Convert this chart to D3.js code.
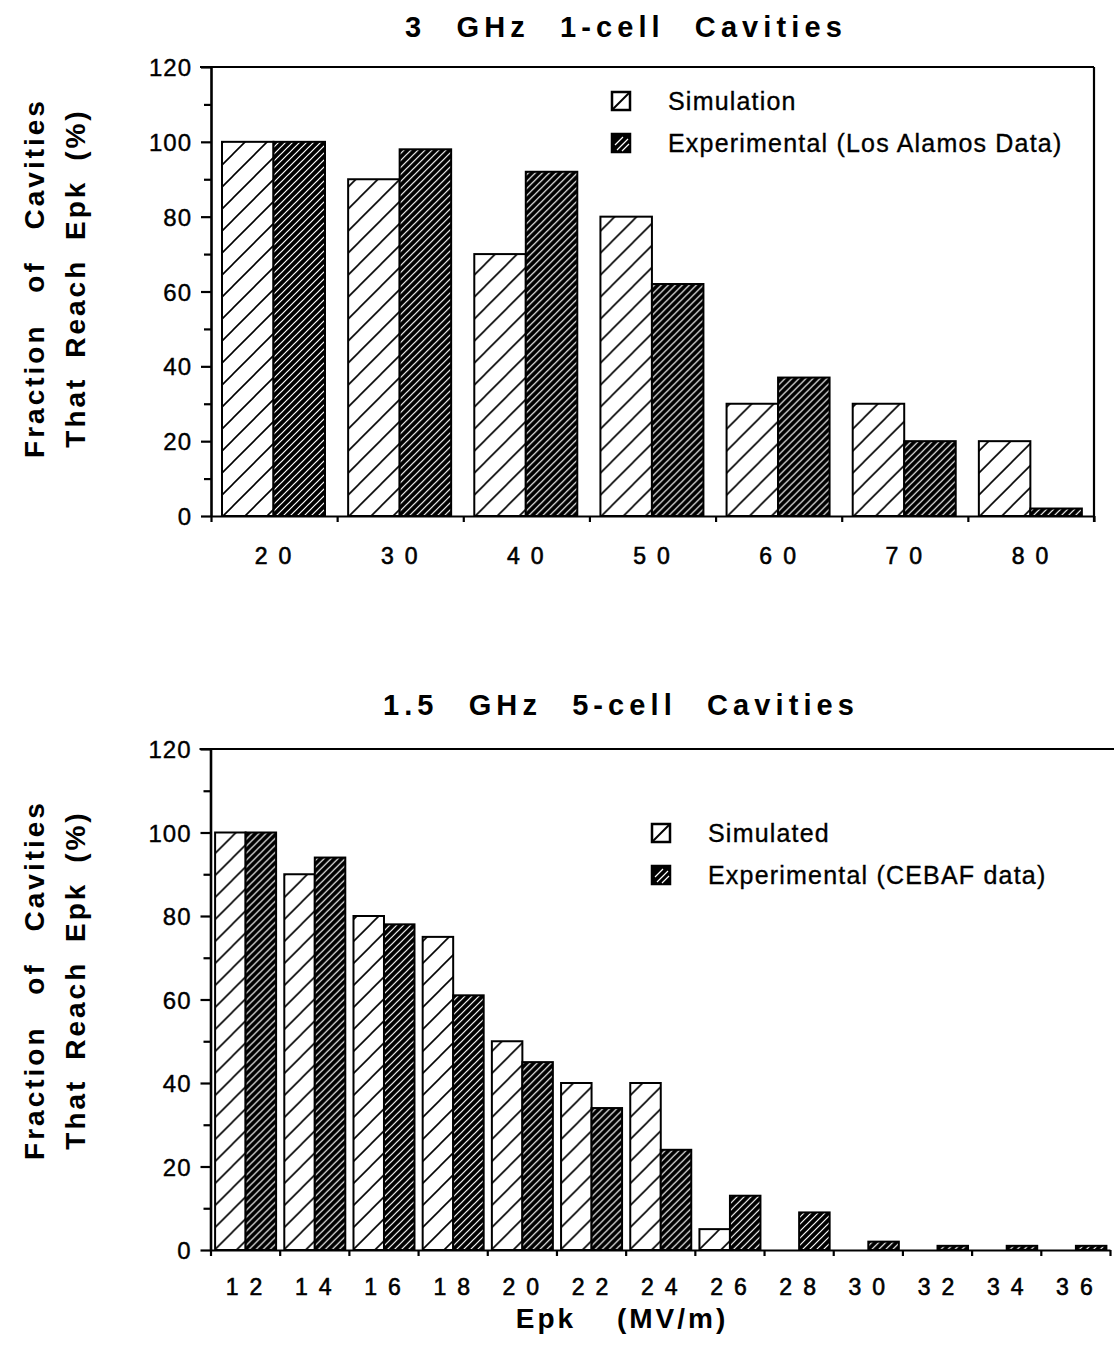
<!DOCTYPE html>
<html>
<head>
<meta charset="utf-8">
<script src="https://cdn.jsdelivr.net/npm/d3@7"></script>
<style>
  html, body { margin: 0; padding: 0; background: #fff; }
  svg { display: block; }
  text { font-family: "Liberation Sans", Arial, Helvetica, sans-serif; fill: #000; }
</style>
</head>
<body>
<svg id="chart" width="1114" height="1358"></svg>
<script>
// ---- data: 3 GHz single-cell cavities ----
const topCategories   = [20, 30, 40, 50, 60, 70, 80];
const topSimulation   = [100, 90, 70, 80, 30, 30, 20];
const topExperimental = [100, 98, 92, 62, 37, 20, 2];

// ---- data: 1.5 GHz five-cell cavities ----
const bottomCategories   = [12, 14, 16, 18, 20, 22, 24, 26, 28, 30, 32, 34, 36];
const bottomSimulated    = [100, 90, 80, 75, 50, 40, 40, 5, 0, 0, 0, 0, 0];
const bottomExperimental = [100, 94, 78, 61, 45, 34, 24, 13, 9, 2, 1, 1, 1];

// ---- axis ticks ----
const yMajorTicks = [0, 20, 40, 60, 80, 100, 120];
const yMinorTicks = [10, 30, 50, 70, 90, 110];

const FONT = '"Liberation Sans", Arial, Helvetica, sans-serif';
const svg = d3.select("#chart");
svg.append("rect").attr("width", 1114).attr("height", 1358).attr("fill", "#fff");

// hatch fills: open "/" hatch and dense dark hatch
const defs = svg.append("defs");
function hatch(id, step, bg, fg, w) {
  const p = defs.append("pattern")
    .attr("id", id)
    .attr("patternUnits", "userSpaceOnUse")
    .attr("width", step).attr("height", step);
  p.append("rect").attr("width", step).attr("height", step).attr("fill", bg);
  p.append("path")
    .attr("d", `M-1,1 l2,-2 M0,${step} l${step},-${step} M${step - 1},${step + 1} l2,-2`)
    .attr("stroke", fg).attr("stroke-width", w);
}
hatch("simHatch", 22, "#fff", "#000", 1.6);
hatch("expHatch", 7, "#000", "#fff", 1.2);

// slightly heavier strokes for plain text
function ink(sel, w) { return sel.attr("stroke", "#000").attr("stroke-width", w); }

function panel(o) {
  const g = svg.append("g");

  const y = d3.scaleLinear().domain([0, 120]).range([o.bottom, o.top]);
  const x = d3.scaleBand().domain(o.categories).range([o.left, o.right]).padding(0);
  const xs = d3.scaleBand().domain(["sim", "exp"])
    .range([o.groupOffset, o.groupOffset + o.groupWidth]).padding(0);
  const edges = d3.scaleLinear().domain([0, o.categories.length]).range([o.left, o.right]);

  // title
  g.append("text")
    .attr("x", o.titleX).attr("y", o.titleY)
    .attr("text-anchor", "middle")
    .attr("font-size", 29).attr("font-weight", "bold")
    .attr("letter-spacing", 5.1).attr("word-spacing", 17)
    .text(o.title);

  // y axis title (two rotated lines)
  const yl = g.append("g").attr("font-size", 28).attr("font-weight", "bold");
  yl.append("text")
    .attr("transform", `translate(44,${o.labelY}) rotate(-90)`)
    .attr("text-anchor", "middle")
    .attr("letter-spacing", 3).attr("word-spacing", 20)
    .text("Fraction of Cavities");
  yl.append("text")
    .attr("transform", `translate(85,${o.labelY}) rotate(-90)`)
    .attr("text-anchor", "middle")
    .attr("letter-spacing", 3).attr("word-spacing", 8)
    .text("That Reach Epk (%)");

  // bars
  const rows = o.categories.map((c, i) => ({ c, sim: o.sim[i], exp: o.exp[i] }));
  const groups = g.append("g").selectAll("g").data(rows).join("g")
    .attr("transform", d => `translate(${x(d.c)},0)`);
  ["sim", "exp"].forEach(key => {
    groups.filter(d => d[key] > 0).append("rect")
      .attr("x", xs(key))
      .attr("width", xs.bandwidth())
      .attr("y", d => y(d[key]))
      .attr("height", d => y(0) - y(d[key]))
      .attr("fill", key === "sim" ? "url(#simHatch)" : "url(#expHatch)")
      .attr("stroke", "#000").attr("stroke-width", 2);
  });

  // top frame line and optional right border
  g.append("line")
    .attr("x1", o.left - 11).attr("x2", o.frameRight)
    .attr("y1", o.top).attr("y2", o.top)
    .attr("stroke", "#000").attr("stroke-width", 2.2);
  if (o.rightBorder) {
    g.append("line")
      .attr("x1", o.right).attr("x2", o.right)
      .attr("y1", o.top).attr("y2", o.bottom + 6)
      .attr("stroke", "#000").attr("stroke-width", 2.2);
  }

  // x axis: tick marks at band edges
  const xEdge = g.append("g").attr("transform", `translate(0,${o.bottom})`)
    .call(d3.axisBottom(edges).tickValues(d3.range(o.categories.length + 1))
      .tickSize(6).tickSizeOuter(0).tickFormat(""));
  xEdge.selectAll("line").attr("stroke-width", 2.2);
  xEdge.select(".domain").attr("stroke-width", 2.2);

  // x axis: category labels
  const xLab = g.append("g").attr("transform", `translate(0,${o.bottom})`)
    .call(d3.axisBottom(x).tickSize(0).tickPadding(o.xPad));
  xLab.select(".domain").remove();
  ink(xLab.selectAll("text")
    .attr("font-family", FONT).attr("font-size", 23)
    .attr("letter-spacing", 11).attr("dx", 4.5), 0.6);

  // y axis
  const yAx = g.append("g").attr("transform", `translate(${o.left},0)`)
    .call(d3.axisLeft(y).tickValues(yMajorTicks).tickSize(10).tickSizeOuter(0).tickPadding(9));
  yAx.select(".domain").attr("stroke-width", 2.6);
  yAx.selectAll("line").attr("stroke-width", 2.2);
  ink(yAx.selectAll("text").attr("font-family", FONT).attr("font-size", 24)
    .attr("letter-spacing", 1).attr("dy", "0.36em"), 0.4);
  const yMin = g.append("g").attr("transform", `translate(${o.left},0)`)
    .call(d3.axisLeft(y).tickValues(yMinorTicks).tickSize(7).tickFormat(""));
  yMin.select(".domain").remove();
  yMin.selectAll("line").attr("stroke-width", 2.2);

  // legend
  const lg = g.append("g").attr("font-size", 25).attr("letter-spacing", 1.2);
  o.legend.forEach((item, i) => {
    const ky = o.legendY + i * o.legendGap;
    const key = lg.append("g").attr("transform", `translate(${o.legendX},${ky})`);
    key.append("rect")
      .attr("width", 18).attr("height", 18)
      .attr("fill", item.dark ? "#000" : "#fff")
      .attr("stroke", "#000").attr("stroke-width", 2.5);
    if (item.dark) {
      key.append("path")
        .attr("d", "M3,11 L11,3 M5,16 L16,5 M10,17 L17,10")
        .attr("stroke", "#fff").attr("stroke-width", 1.2);
    } else {
      key.append("path").attr("d", "M1,17 L17,1")
        .attr("stroke", "#000").attr("stroke-width", 2);
    }
    ink(lg.append("text")
      .attr("x", o.legendX + 56).attr("y", ky + 18)
      .text(item.label), 0.35);
  });
  return { x, y };
}

panel({
  categories: topCategories, sim: topSimulation, exp: topExperimental,
  left: 211, right: 1094, top: 67, bottom: 516, frameRight: 1094, rightBorder: true,
  groupOffset: 11, groupWidth: 103,
  title: "3 GHz 1-cell Cavities", titleX: 626, titleY: 37,
  labelY: 278, xPad: 32,
  legendX: 612, legendY: 92, legendGap: 42,
  legend: [
    { label: "Simulation", dark: false },
    { label: "Experimental (Los Alamos Data)", dark: true }
  ]
});

panel({
  categories: bottomCategories, sim: bottomSimulated, exp: bottomExperimental,
  left: 210.5, right: 1110, top: 749, bottom: 1250, frameRight: 1114, rightBorder: false,
  groupOffset: 4.6, groupWidth: 61,
  title: "1.5 GHz 5-cell Cavities", titleX: 621, titleY: 715,
  labelY: 980, xPad: 29,
  legendX: 652, legendY: 824, legendGap: 42,
  legend: [
    { label: "Simulated", dark: false },
    { label: "Experimental (CEBAF data)", dark: true }
  ]
});

// shared x axis title
svg.append("text")
  .attr("x", 622).attr("y", 1328)
  .attr("text-anchor", "middle")
  .attr("font-size", 28).attr("font-weight", "bold")
  .attr("letter-spacing", 3).attr("word-spacing", 30)
  .text("Epk (MV/m)");
</script>
</body>
</html>
